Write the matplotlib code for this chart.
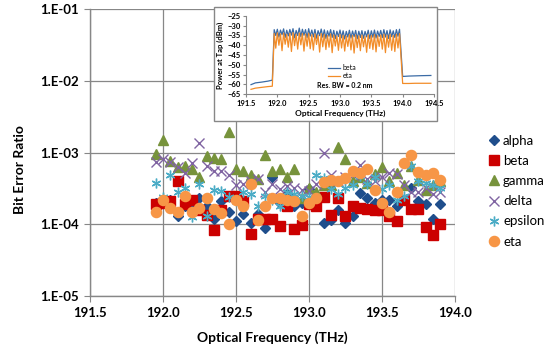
import matplotlib
matplotlib.use("Agg")
import matplotlib.pyplot as plt
from matplotlib.patches import Rectangle
import numpy as np

plt.rcParams['font.family'] = ['Lato', 'DejaVu Sans']

# channel grid (THz)
freq = [191.95, 192.00, 192.05, 192.10, 192.15, 192.20, 192.25, 192.30, 192.35, 192.40,
        192.45, 192.50, 192.55, 192.60, 192.65, 192.70, 192.75, 192.80, 192.85, 192.90,
        192.95, 193.00, 193.05, 193.10, 193.15, 193.20, 193.25, 193.30, 193.35, 193.40,
        193.45, 193.50, 193.55, 193.60, 193.65, 193.70, 193.75, 193.80, 193.85, 193.90]

alpha = [2.0e-4, 2.2e-4, 2.2e-4, 1.3e-4, 1.8e-4, 1.6e-4, 2.3e-4, 1.8e-4, 1.2e-4, 2.1e-4,
         1.5e-4, 1.1e-4, 1.4e-4, 1.05e-4, 1.4e-4, 8.9e-5, 4.5e-4, 2.0e-4, 2.6e-4, 1.8e-4,
         2.0e-4, 3.1e-4, 1.8e-4, 1.05e-4, 1.15e-4, 1.6e-4, 1.05e-4, 1.3e-4, 2.7e-4, 2.3e-4,
         2.0e-4, 2.2e-4, 2.2e-4, 1.8e-4, 2.2e-4, 3.2e-4, 2.1e-4, 1.9e-4, 1.2e-4, 1.9e-4]
beta = [1.9e-4, 2.0e-4, 2.1e-4, 4.0e-4, 1.9e-4, 2.2e-4, 1.6e-4, 1.35e-4, 8.3e-5, 1.6e-4,
        2.5e-4, 2.5e-4, 2.1e-4, 7.4e-5, 1.2e-4, 1.2e-4, 1.2e-4, 9.5e-5, 1.8e-4, 8.7e-5,
        9.8e-5, 1.9e-4, 1.8e-4, 2.4e-4, 1.35e-4, 2.3e-4, 1.3e-4, 1.8e-4, 1.7e-4, 1.65e-4,
        1.6e-4, 1.6e-4, 1.3e-4, 1.1e-4, 2.2e-4, 1.65e-4, 1.65e-4, 9.3e-5, 7.1e-5, 1.0e-4]
gamma = [9.5e-4, 1.5e-3, 7.6e-4, 6.3e-4, 6.5e-4, 5.8e-4, 4.6e-4, 8.9e-4, 8.5e-4, 8.0e-4,
         1.9e-3, 5.9e-4, 5.6e-4, 4.9e-4, 4.3e-4, 9.3e-4, 5.6e-4, 5.8e-4, 4.5e-4, 5.8e-4,
         2.3e-4, 3.2e-4, 2.8e-4, 3.5e-4, 3.5e-4, 1.2e-3, 8.0e-4, 4.0e-4, 4.5e-4, 3.8e-4,
         5.0e-4, 6.2e-4, 4.0e-4, 5.2e-4, 3.5e-4, 6.5e-4, 4.2e-4, 3.0e-4, 3.5e-4, 4.0e-4]
delta = [7.4e-4, 8.1e-4, 7.4e-4, 6.2e-4, 5.2e-4, 7.2e-4, 1.35e-3, 6.5e-4, 5.5e-4, 5.5e-4,
         4.9e-4, 3.5e-4, 3.6e-4, 4.0e-4, 4.3e-4, 2.8e-4, 3.6e-4, 3.1e-4, 3.4e-4, 3.2e-4,
         3.0e-4, 2.9e-4, 3.6e-4, 9.8e-4, 4.9e-4, 4.0e-4, 4.5e-4, 4.9e-4, 6.6e-4, 4.3e-4,
         4.0e-4, 4.5e-4, 5.2e-4, 5.0e-4, 3.5e-4, 2.8e-4, 2.8e-4, 3.2e-4, 2.6e-4, 2.8e-4]
epsilon = [3.8e-4, 2.4e-4, 4.8e-4, 2.8e-4, 3.2e-4, 1.26e-4, 3.6e-4, 1.3e-4, 3.0e-4, 2.9e-4,
           2.4e-4, 2.1e-4, 2.8e-4, 2.6e-4, 1.8e-4, 2.5e-4, 2.2e-4, 1.8e-4, 2.8e-4, 2.6e-4,
           2.5e-4, 2.4e-4, 4.9e-4, 4.4e-4, 3.1e-4, 2.6e-4, 3.2e-4, 3.5e-4, 4.7e-4, 3.6e-4,
           4.5e-4, 3.1e-4, 3.5e-4, 2.2e-4, 2.5e-4, 6.5e-4, 4.0e-4, 3.8e-4, 3.5e-4, 3.2e-4]
eta = [1.5e-4, 2.2e-4, 1.7e-4, 1.5e-4, 2.5e-4, 1.5e-4, 1.7e-4, 2.3e-4, 1.65e-4, 1.45e-4,
       1.0e-4, 2.2e-4, 1.8e-4, 3.6e-4, 1.15e-4, 1.8e-4, 2.3e-4, 2.3e-4, 2.2e-4, 2.1e-4,
       1.3e-4, 1.95e-4, 2.3e-4, 3.9e-4, 4.2e-4, 4.0e-4, 4.4e-4, 5.5e-4, 5.2e-4, 5.8e-4,
       3.0e-4, 2.0e-4, 1.5e-4, 2.8e-4, 7.2e-4, 9.3e-4, 5.4e-4, 4.8e-4, 5.2e-4, 4.2e-4]

# inset spectrum (dBm)
spec_ch = [191.95, 192.00, 192.05, 192.10, 192.15, 192.20, 192.25, 192.30, 192.35, 192.40,
           192.45, 192.50, 192.55, 192.60, 192.65, 192.70, 192.75, 192.80, 192.85, 192.90,
           192.95, 193.00, 193.05, 193.10, 193.15, 193.20, 193.25, 193.30, 193.35, 193.40,
           193.45, 193.50, 193.55, 193.60, 193.65, 193.70, 193.75, 193.80, 193.85, 193.90,
           193.95]
beta_pk = [-32.0, -31.8, -32.2, -31.6, -32.3, -31.9, -31.5, -32.4, -31.2, -31.8, -32.0,
           -31.5, -32.2, -31.9, -32.5, -31.7, -32.1, -32.6, -32.0, -32.4, -32.8, -32.2,
           -32.6, -32.9, -32.3, -32.7, -32.4, -32.8, -32.5, -32.9, -32.3, -32.6, -32.2,
           -32.7, -32.4, -32.0, -32.5, -32.1, -32.6, -32.0, -31.8]
beta_dip = [-35.0, -35.8, -34.6, -36.0, -35.2, -34.8, -36.2, -35.0, -35.6, -34.9,
            -36.1, -35.3, -35.7, -36.4, -35.1, -35.9, -36.5, -35.4, -36.0, -36.6,
            -35.5, -36.2, -36.8, -35.8, -36.3, -35.6, -36.7, -36.0, -36.4, -35.7,
            -36.6, -35.9, -36.3, -35.5, -36.1, -35.8, -36.5, -35.6, -36.0, -35.4]
eta_pk = [-34.0, -33.6, -34.2, -33.8, -34.5, -33.9, -33.5, -34.4, -33.7, -34.0, -34.3,
          -33.8, -34.6, -34.1, -34.8, -34.0, -34.4, -35.0, -34.2, -34.7, -35.2, -34.5,
          -34.9, -35.3, -34.6, -35.0, -34.7, -35.2, -34.8, -35.4, -34.6, -35.0, -34.5,
          -35.1, -34.7, -34.3, -34.9, -34.4, -35.0, -34.4, -34.0]
eta_dip = [-41.5, -40.0, -42.8, -39.5, -41.0, -43.2, -40.2, -42.0, -39.8, -43.0,
           -40.5, -41.8, -42.5, -39.6, -43.5, -40.8, -42.2, -41.0, -43.8, -40.4,
           -42.6, -41.4, -43.0, -40.6, -42.4, -44.0, -41.2, -42.8, -40.8, -43.6,
           -41.6, -42.2, -43.4, -40.6, -42.0, -43.8, -41.0, -42.6, -43.2, -41.4]
left_f = [191.58, 191.65, 191.75, 191.85, 191.92]
beta_left = [-60.2, -59.3, -58.9, -58.4, -57.9]
eta_left = [-62.6, -62.0, -61.6, -61.2, -61.0]
right_f = [194.00, 194.10, 194.20, 194.30, 194.45]
beta_right = [-56.0, -55.8, -55.7, -55.6, -55.5]
eta_right = [-59.6, -59.6, -59.5, -59.5, -59.5]

W, H = 549, 352
fig = plt.figure(figsize=(W / 100, H / 100), dpi=100)
ax = fig.add_axes([90 / W, 1 - 296 / H, 365 / W, 287 / H])

gray = '#878787'
styles = [
    ('alpha', alpha, dict(marker='D', color='#1F4E8C', ms=5.2, mec='#1F4E8C')),
    ('beta', beta, dict(marker='s', color='#CC0000', ms=7, mec='#CC0000')),
    ('gamma', gamma, dict(marker='^', color='#77933C', ms=7.5, mec='#77933C')),
    ('delta', delta, dict(marker='x', color='#8064A2', ms=6.5, mew=1.0)),
    ('epsilon', epsilon, dict(marker=(6, 2, 0), color='#4BACC6', ms=7, mew=1.0)),
    ('eta', eta, dict(marker='o', color='#F79646', ms=7.3, mec='#F79646')),
]
handles = []
for name, vals, kw in styles:
    h, = ax.plot(freq, vals, linestyle='none', label=name, **kw)
    handles.append(h)

ax.set_yscale('log')
ax.set_xlim(191.5, 194.0)
ax.set_ylim(1e-5, 1e-1)
ax.set_xticks([191.5, 192.0, 192.5, 193.0, 193.5, 194.0])
ax.set_xticklabels(['191.5', '192.0', '192.5', '193.0', '193.5', '194.0'])
ax.set_yticks([1e-5, 1e-4, 1e-3, 1e-2, 1e-1])
ax.set_yticklabels(['1.E-05', '1.E-04', '1.E-03', '1.E-02', '1.E-01'])
ax.yaxis.set_minor_locator(matplotlib.ticker.NullLocator())
ax.grid(True, color=gray, lw=0.9)
ax.set_axisbelow(True)
for s in ['top', 'right']:
    ax.spines[s].set_visible(False)
for s in ['left', 'bottom']:
    ax.spines[s].set_color(gray)
    ax.spines[s].set_linewidth(1.0)
ax.tick_params(axis='both', which='major', direction='out', length=4, color=gray,
               labelsize=9.5, pad=4)
for lab in ax.get_xticklabels() + ax.get_yticklabels():
    lab.set_fontweight('bold')

fig.text(20 / W, 1 - 170 / H, 'Bit Error Ratio', rotation=90, ha='center', va='center',
         fontsize=10, fontweight='bold')
fig.text(272 / W, 1 - 338 / H, 'Optical Frequency (THz)', ha='center', va='center',
         fontsize=10, fontweight='bold')

fig.legend(handles=handles, loc='upper left', bbox_to_anchor=(482 / W, 1 - 128 / H),
           frameon=False, fontsize=9.5, handlelength=0.8, handletextpad=0.3,
           labelspacing=0.62, borderpad=0, markerscale=1.0)

# inset box
fig.patches.append(Rectangle((214 / W, 1 - 121 / H), 223 / W, 114 / H,
                             transform=fig.transFigure, facecolor='white',
                             edgecolor=gray, lw=1.0, zorder=5))

axi = fig.add_axes([246 / W, 1 - 94 / H, 188 / W, 78 / H], zorder=6)
axi.patch.set_alpha(0)

dip_f = [(a + b) / 2 for a, b in zip(spec_ch[:-1], spec_ch[1:])]
rip_f, rip_b, rip_e = [], [], []
for i in range(len(spec_ch)):
    rip_f.append(spec_ch[i]); rip_b.append(beta_pk[i]); rip_e.append(eta_pk[i])
    if i < len(dip_f):
        rip_f.append(dip_f[i]); rip_b.append(beta_dip[i]); rip_e.append(eta_dip[i])
fb = left_f + rip_f + right_f
axi.plot(fb, beta_left + rip_b + beta_right, color='#3B6BA5', lw=0.9, label='beta')
axi.plot(fb, eta_left + rip_e + eta_right, color='#F28C28', lw=0.9, label='eta')

axi.set_xlim(191.5, 194.5)
axi.set_ylim(-65, -25)
axi.set_xticks([191.5, 192.0, 192.5, 193.0, 193.5, 194.0, 194.5])
axi.set_xticklabels(['191.5', '192.0', '192.5', '193.0', '193.5', '194.0', '194.5'])
axi.set_yticks(list(range(-65, -24, 5)))
for s in ['top', 'right']:
    axi.spines[s].set_visible(False)
for s in ['left', 'bottom']:
    axi.spines[s].set_color(gray)
    axi.spines[s].set_linewidth(0.8)
axi.tick_params(axis='both', direction='out', length=2.5, color=gray, labelsize=5.5, pad=1.5)
for lab in axi.get_xticklabels() + axi.get_yticklabels():
    lab.set_fontweight('bold')
axi.set_xlabel('Optical Frequency (THz)', fontsize=6, fontweight='bold', labelpad=2)
axi.set_ylabel('Power at Tap (dBm)', fontsize=5.5, fontweight='bold', labelpad=2)
axi.legend(loc='upper left', bbox_to_anchor=((325 - 246) / 188, 1 - (61 - 16) / 78),
           bbox_transform=axi.transAxes, frameon=False, fontsize=5, handlelength=1.6,
           handletextpad=0.4, labelspacing=0.1, borderpad=0)
fig.text(345 / W, 1 - 85 / H, 'Res. BW = 0.2 nm', ha='center', va='center', fontsize=5,
         fontweight='bold', zorder=7)

fig.savefig('out.png', dpi=100)
